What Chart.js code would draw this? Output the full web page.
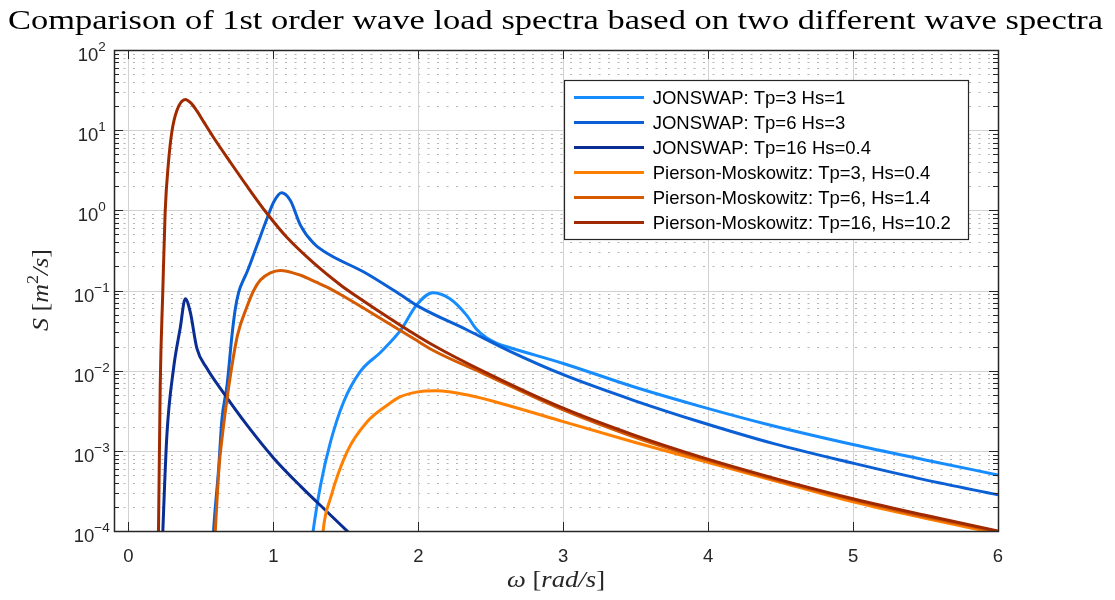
<!DOCTYPE html>
<html>
<head>
<meta charset="utf-8">
<script src="https://cdn.jsdelivr.net/npm/chart.js@4.4.1/dist/chart.umd.min.js"></script>
<style>
  html, body { margin: 0; padding: 0; background: #fff; }
</style>
</head>
<body>
<canvas id="c" width="1115" height="600"></canvas>
<script>
// ── Data (omega in rad/s, S in m^2/s) ──
const omegaJ3  = [1.24, 1.274, 1.325, 1.394, 1.485, 1.60, 1.74, 1.878, 1.988, 2.10, 2.218, 2.334, 2.40, 2.47, 2.55, 2.633, 3.0, 3.485, 3.946, 4.453, 5.006, 5.49, 6.0];
const specJ3   = [3.2e-5, 1e-4, 3.7e-4, 1.29e-3, 4.1e-3, 9.8e-3, 0.017, 0.032, 0.066, 0.094, 0.079, 0.049, 0.033, 0.0257, 0.0216, 0.0193, 0.0123, 6.3e-3, 3.59e-3, 2.04e-3, 1.19e-3, 7.76e-4, 5.0e-4];

const omegaJ6  = [0.57, 0.587, 0.622, 0.645, 0.680, 0.714, 0.735, 0.76, 0.79, 0.818, 0.887, 0.956, 1.002, 1.055, 1.117, 1.187, 1.279, 1.394, 1.624, 1.875, 2.01, 2.334, 2.633, 3.0, 3.485, 3.946, 4.453, 5.006, 5.49, 6.0];
const specJ6   = [2.5e-5, 1e-4, 6.0e-4, 2.5e-3, 6.6e-3, 0.0275, 0.056, 0.095, 0.132, 0.17, 0.366, 0.79, 1.27, 1.66, 1.33, 0.65, 0.385, 0.275, 0.17, 0.089, 0.062, 0.0324, 0.0174, 8.9e-3, 4.27e-3, 2.29e-3, 1.23e-3, 6.97e-4, 4.37e-4, 2.82e-4];

const omegaJ16 = [0.225, 0.237, 0.265, 0.311, 0.357, 0.392, 0.426, 0.472, 0.541, 0.657, 0.818, 1.002, 1.187, 1.37, 1.509, 1.65];
const specJ16  = [2.5e-5, 1e-4, 1.58e-3, 0.0107, 0.034, 0.079, 0.054, 0.019, 0.0107, 5.25e-3, 2.09e-3, 8.1e-4, 3.63e-4, 1.74e-4, 1.0e-4, 5.75e-5];

const omegaP3  = [1.32, 1.343, 1.394, 1.509, 1.647, 1.785, 1.873, 1.988, 2.126, 2.334, 2.633, 3.0, 3.485, 3.946, 4.453, 5.006, 5.49, 6.0];
const specP3   = [2.5e-5, 1e-4, 2.57e-4, 9.8e-4, 2.3e-3, 3.7e-3, 4.7e-3, 5.4e-3, 5.6e-3, 5.0e-3, 3.63e-3, 2.31e-3, 1.29e-3, 7.6e-4, 4.27e-4, 2.29e-4, 1.45e-4, 9.3e-5];

const omegaP6  = [0.58, 0.599, 0.625, 0.645, 0.69, 0.752, 0.818, 0.864, 0.91, 0.979, 1.048, 1.187, 1.30, 1.37, 1.463, 1.624, 1.97, 2.10, 2.449, 3.0, 3.485, 3.946, 4.453, 5.006, 5.49, 6.0];
const specP6   = [2.5e-5, 1e-4, 6.3e-4, 1.41e-3, 6.0e-3, 0.0275, 0.063, 0.10, 0.135, 0.166, 0.178, 0.155, 0.126, 0.11, 0.089, 0.060, 0.025, 0.018, 9.2e-3, 3.24e-3, 1.5e-3, 8.1e-4, 4.4e-4, 2.43e-4, 1.51e-4, 9.8e-5];

const omegaP16 = [0.20, 0.207, 0.219, 0.237, 0.253, 0.276, 0.299, 0.334, 0.392, 0.43, 0.472, 0.52, 0.587, 0.703, 0.818, 0.956, 1.094, 1.279, 1.463, 1.555, 1.873, 2.10, 2.449, 3.0, 3.485, 3.946, 4.453, 5.006, 5.49, 6.0];
const specP16  = [2.5e-5, 1e-4, 6.6e-3, 0.102, 0.955, 3.98, 9.46, 17.6, 24.2, 21.9, 17.4, 12.6, 8.1, 3.98, 2.0, 0.912, 0.457, 0.219, 0.117, 0.089, 0.0372, 0.0209, 9.8e-3, 3.4e-3, 1.58e-3, 8.4e-4, 4.57e-4, 2.51e-4, 1.58e-4, 1.0e-4];

const seriesLabels = [
  'JONSWAP: Tp=3 Hs=1',
  'JONSWAP: Tp=6 Hs=3',
  'JONSWAP: Tp=16 Hs=0.4',
  'Pierson-Moskowitz: Tp=3, Hs=0.4',
  'Pierson-Moskowitz: Tp=6, Hs=1.4',
  'Pierson-Moskowitz: Tp=16, Hs=10.2',
];
const seriesOmega = [omegaJ3, omegaJ6, omegaJ16, omegaP3, omegaP6, omegaP16];
const seriesSpec  = [specJ3, specJ6, specJ16, specP3, specP6, specP16];
const seriesColors = ['#168cff', '#0a5fd4', '#0a2d94', '#ff8000', '#d65a00', '#a02a00'];

const xTicks = [0, 1, 2, 3, 4, 5, 6];
const yExponents = [-4, -3, -2, -1, 0, 1, 2];

const TITLE = 'Comparison of 1st order wave load spectra based on two different wave spectra';

// ── Helpers ───────────────────────────────────────────────
const SANS  = '"Liberation Sans", Arial, sans-serif';
const SERIF = '"Liberation Serif", "Times New Roman", serif';
const AXIS_COLOR = '#262626';

// draw a row of text pieces (italic / superscript) stretched to a target width
function richText(ctx, parts, size, cx, baseline, targetW) {
  const fontOf = p => `${p.it ? 'italic ' : ''}${p.sup ? size * 0.7 : size}px ${SERIF}`;
  let total = 0;
  parts.forEach(p => { ctx.font = fontOf(p); p.w = ctx.measureText(p.t).width; total += p.w; });
  const sx = targetW ? targetW / total : 1;
  ctx.save();
  ctx.translate(cx - total * sx / 2, baseline);
  ctx.scale(sx, 1);
  let x = 0;
  ctx.textAlign = 'left';
  ctx.textBaseline = 'alphabetic';
  parts.forEach(p => {
    ctx.font = fontOf(p);
    ctx.fillText(p.t, x, p.sup ? -size * 0.42 : 0);
    x += p.w;
  });
  ctx.restore();
}

// ── Plugin: grid, box, ticks, labels, legend ─────────────
const matlabFrame = {
  id: 'matlabFrame',
  beforeDatasetsDraw(chart) {
    const { ctx, chartArea: a, scales: { x, y } } = chart;
    ctx.save();
    // minor dotted grid
    ctx.strokeStyle = '#b4b4b4';
    ctx.lineWidth = 1.2;
    ctx.setLineDash([2, 7.5]);
    ctx.beginPath();
    for (let e = yExponents[0]; e < yExponents[yExponents.length - 1]; e++) {
      for (let m = 2; m <= 9; m++) {
        const py = Math.round(y.getPixelForValue(m * Math.pow(10, e))) + 0.5;
        ctx.moveTo(a.left, py); ctx.lineTo(a.right, py);
      }
    }
    ctx.stroke();
    // major solid grid
    ctx.setLineDash([]);
    ctx.strokeStyle = '#d2d2d2';
    ctx.lineWidth = 1;
    ctx.beginPath();
    yExponents.forEach(e => {
      const py = Math.round(y.getPixelForValue(Math.pow(10, e))) + 0.5;
      ctx.moveTo(a.left, py); ctx.lineTo(a.right, py);
    });
    xTicks.forEach(t => {
      const px = Math.round(x.getPixelForValue(t)) + 0.5;
      ctx.moveTo(px, a.top); ctx.lineTo(px, a.bottom);
    });
    ctx.stroke();
    ctx.restore();
  },
  afterDatasetsDraw(chart) {
    const { ctx, chartArea: a, scales: { x, y } } = chart;
    ctx.save();

    // ticks (inward, both sides)
    ctx.strokeStyle = AXIS_COLOR;
    ctx.lineWidth = 1;
    ctx.beginPath();
    xTicks.forEach(t => {
      const px = Math.round(x.getPixelForValue(t)) + 0.5;
      ctx.moveTo(px, a.bottom); ctx.lineTo(px, a.bottom - 9);
      ctx.moveTo(px, a.top);    ctx.lineTo(px, a.top + 9);
    });
    for (let e = yExponents[0]; e <= yExponents[yExponents.length - 1]; e++) {
      for (let m = 1; m <= 9; m++) {
        if (e === yExponents[yExponents.length - 1] && m > 1) break;
        const py = Math.round(y.getPixelForValue(m * Math.pow(10, e))) + 0.5;
        const len = m === 1 ? 9 : 5;
        ctx.moveTo(a.left, py);  ctx.lineTo(a.left + len, py);
        ctx.moveTo(a.right, py); ctx.lineTo(a.right - len, py);
      }
    }
    ctx.stroke();

    // box
    ctx.lineWidth = 1.5;
    ctx.strokeRect(Math.round(a.left) + 0.5, Math.round(a.top) + 0.5,
                   Math.round(a.right - a.left), Math.round(a.bottom - a.top));

    // x tick labels
    ctx.fillStyle = AXIS_COLOR;
    ctx.font = `18.5px ${SANS}`;
    ctx.textAlign = 'center';
    ctx.textBaseline = 'alphabetic';
    xTicks.forEach(t => ctx.fillText(String(t), x.getPixelForValue(t), 561.5));

    // y tick labels: 10^e
    yExponents.forEach(e => {
      const py = y.getPixelForValue(Math.pow(10, e));
      const exp = e < 0 ? '\u2212' + Math.abs(e) : String(e);
      ctx.font = `18.5px ${SANS}`;
      const wBase = ctx.measureText('10').width;
      ctx.font = `13.5px ${SANS}`;
      const wExp = ctx.measureText(exp).width;
      const x0 = 91.7 - (wBase + wExp) / 2;
      ctx.textAlign = 'left';
      ctx.font = `18.5px ${SANS}`;
      ctx.fillText('10', x0, py + 11);
      ctx.font = `13.5px ${SANS}`;
      ctx.fillText(exp, x0 + wBase, py + 1);
    });

    // title and axis labels
    ctx.fillStyle = '#000';
    richText(ctx, [{ t: TITLE }], 28, 555.5, 29, 1095);
    ctx.fillStyle = AXIS_COLOR;
    richText(ctx, [{ t: '\u03c9', it: true }, { t: ' [' }, { t: 'rad/s', it: true }, { t: ']' }], 24, 556, 587, 98);
    ctx.save();
    ctx.translate(48, 290);
    ctx.rotate(-Math.PI / 2);
    richText(ctx, [{ t: 'S', it: true }, { t: ' [' }, { t: 'm', it: true }, { t: '2', sup: true }, { t: '/s', it: true }, { t: ']' }], 24, 0, 0, 82);
    ctx.restore();

    // legend box
    const L = { x: 564, y: 80, w: 404, h: 159 };
    ctx.fillStyle = '#fff';
    ctx.fillRect(L.x, L.y, L.w, L.h);
    ctx.strokeStyle = AXIS_COLOR;
    ctx.lineWidth = 1.2;
    ctx.strokeRect(L.x + 0.5, L.y + 0.5, L.w, L.h);
    ctx.font = `18.5px ${SANS}`;
    ctx.textAlign = 'left';
    ctx.textBaseline = 'middle';
    chart.data.datasets.forEach((ds, i) => {
      const ry = 97.5 + i * 25;
      ctx.strokeStyle = ds.borderColor;
      ctx.lineWidth = 3;
      ctx.beginPath(); ctx.moveTo(574, ry); ctx.lineTo(644, ry); ctx.stroke();
      ctx.fillStyle = '#000';
      ctx.fillText(ds.label, 652.7, ry + 1);
    });
    ctx.restore();
  },
};

// ── Chart ─────────────────────────────────────────────────
const datasets = seriesLabels.map((label, i) => ({
  label,
  data: seriesOmega[i].map((w, k) => ({ x: w, y: seriesSpec[i][k] })),
  borderColor: seriesColors[i],
  borderWidth: 3,
  pointRadius: 0,
  fill: false,
  cubicInterpolationMode: 'monotone',
  clip: 0,
  order: seriesLabels.length - i,   // later series on top, like MATLAB
}));

new Chart(document.getElementById('c'), {
  type: 'line',
  data: { datasets },
  plugins: [matlabFrame],
  options: {
    responsive: false,
    animation: false,
    layout: { padding: { left: 114, right: 117, top: 50, bottom: 69 } },
    plugins: { legend: { display: false }, tooltip: { enabled: false }, title: { display: false } },
    scales: {
      x: {
        type: 'linear', min: -0.1, max: 6,
        grid: { display: false, drawTicks: false },
        border: { display: false },
        ticks: { display: false },
      },
      y: {
        type: 'logarithmic', min: 1e-4, max: 1e2,
        grid: { display: false, drawTicks: false },
        border: { display: false },
        ticks: { display: false },
      },
    },
  },
});
</script>
</body>
</html>
